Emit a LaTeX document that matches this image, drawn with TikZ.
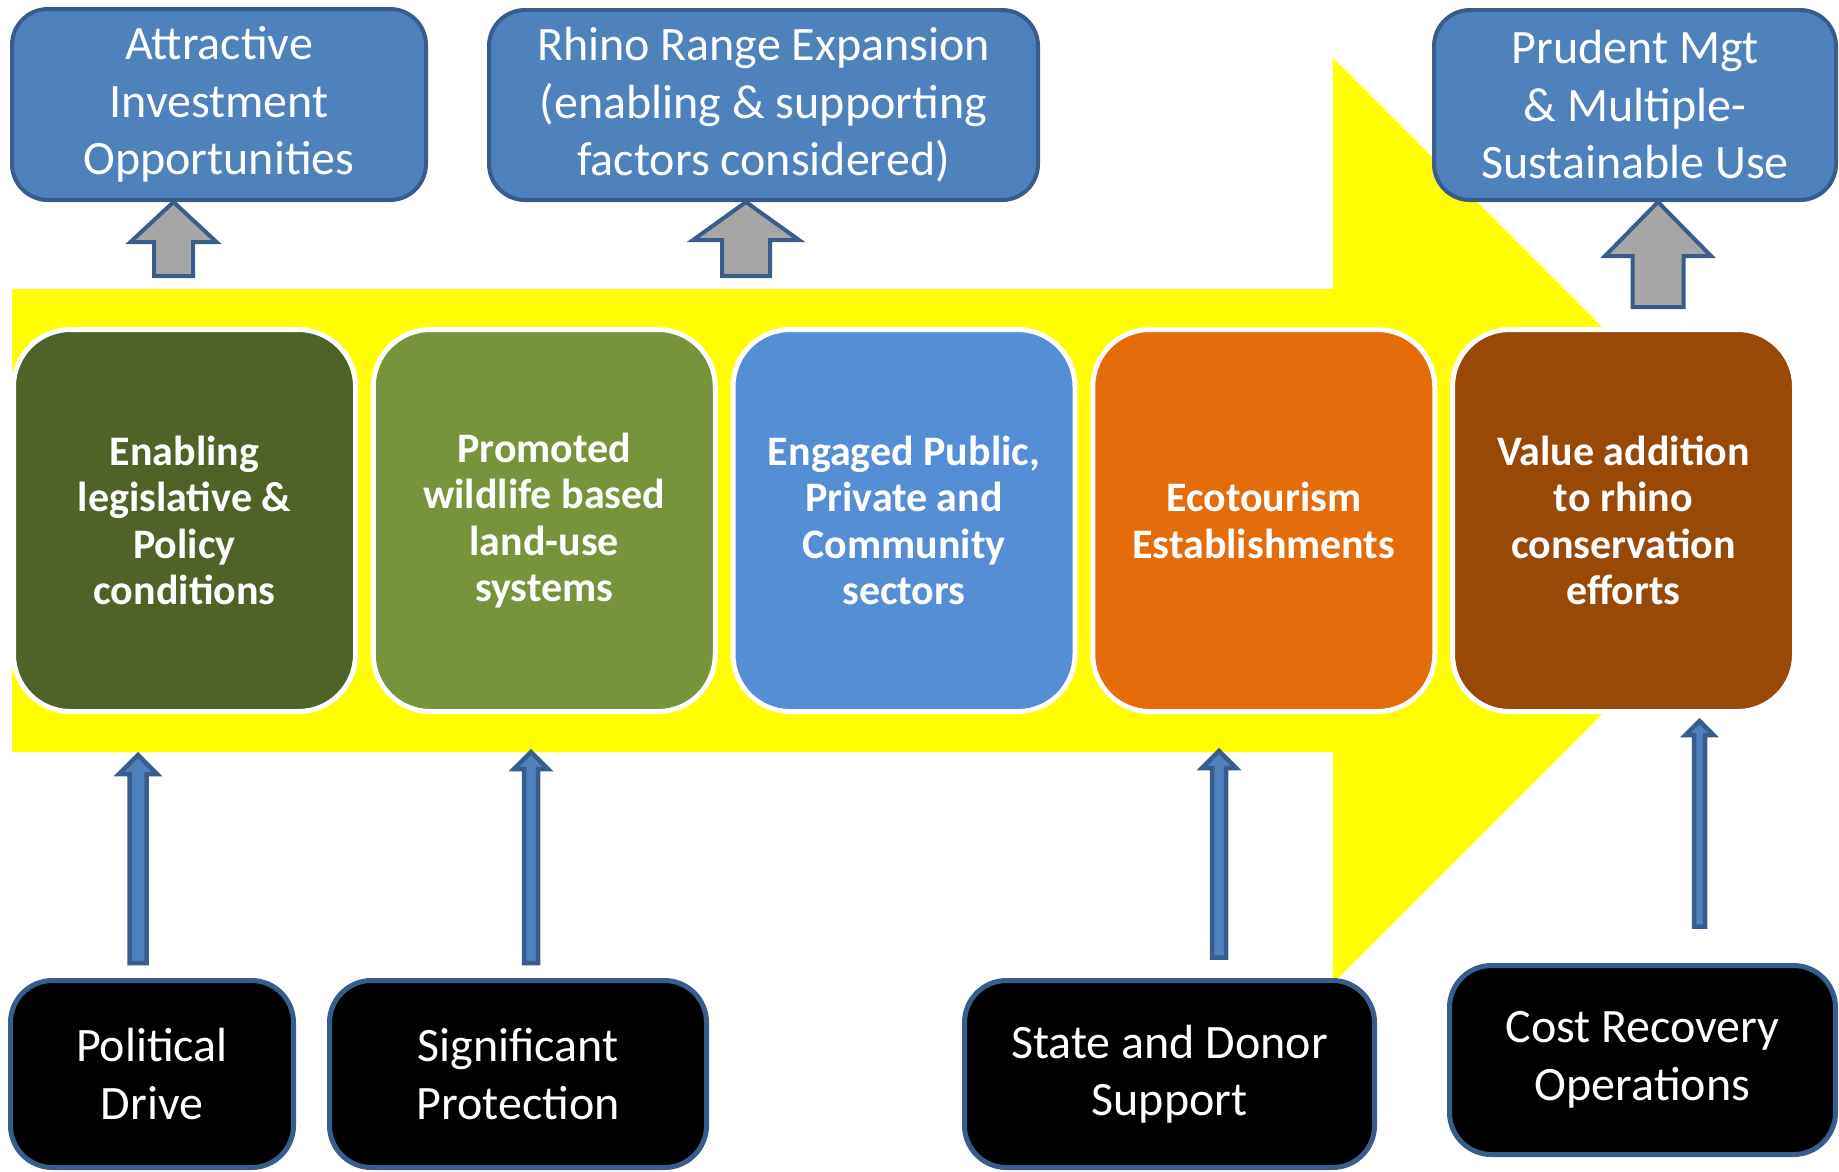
\documentclass[tikz,border=0pt]{standalone}
\usepackage{fontspec}
\setmainfont{Carlito}
\usetikzlibrary{calc}

\definecolor{boxblue}{HTML}{4F81BD}
\definecolor{edgeblue}{HTML}{385D8A}
\definecolor{arrowgray}{HTML}{A6A6A6}
\definecolor{olivedark}{HTML}{4F6228}
\definecolor{olivelight}{HTML}{77933C}
\definecolor{skyblue}{HTML}{558ED5}
\definecolor{ecoorange}{HTML}{E46C0A}
\definecolor{rustbrown}{HTML}{984807}
\definecolor{bandyellow}{HTML}{FFFF00}

% upward block arrow: style, from, to, half shaft, half head, head length
\newcommand\blockup[6][]{%
  \draw[#1] (#3) -- ++(#5,#6) -- ++({#4-#5},0) -- ($(#2)+(#4,0)$)
    -- ($(#2)+(-#4,0)$) -- ($(#3)+(-#4,#6)$) -- ($(#3)+(-#5,#6)$) -- cycle;}

\begin{document}
\begin{tikzpicture}[x=1pt,y=-1pt,
  topbox/.style={rectangle,rounded corners=36pt,draw=edgeblue,line width=4pt,fill=boxblue,
    text=white,align=center,inner sep=0pt,font=\fontsize{48}{57.5}\selectfont},
  midbox/.style={rectangle,rounded corners=57pt,draw=white,line width=5pt,text=white,align=center,
    inner sep=0pt,minimum width=342pt,minimum height=382pt,font=\fontsize{42}{46.5}\selectfont\bfseries},
  basebox/.style={rectangle,rounded corners=42pt,draw=edgeblue,line width=5pt,fill=black,
    text=white,align=center,inner sep=0pt,font=\fontsize{48}{57.5}\selectfont},
  outarrow/.style={draw=edgeblue,line width=4pt,fill=arrowgray,line join=miter},
  inarrow/.style={draw=edgeblue,line width=4.5pt,fill=boxblue,line join=miter}]
 \useasboundingbox (0,0) rectangle (1839,1171);

 % big yellow arrow
 \fill[bandyellow] (12,289) -- (1333,289) -- (1333,58) -- (1795.5,520.5) -- (1333,983) -- (1333,752) -- (12,752) -- cycle;

 \node[topbox,minimum width=414pt,minimum height=191pt] (attract) at (219,104.5) {Attractive\\Investment\\Opportunities};
 \node[topbox,minimum width=549pt,minimum height=190pt] (range) at (763.5,105) {Rhino Range Expansion\\(enabling \& supporting\\factors considered)};
 \node[topbox,minimum width=402pt,minimum height=190pt] (prudent) at (1635,105) {Prudent Mgt\\\& Multiple-\\Sustainable Use};

 \node[midbox,fill=olivedark] (legis) at (184.5,520.5) {Enabling\\legislative \&\\Policy\\conditions};
 \node[midbox,fill=olivelight] (landuse) at (544.25,520.5) {Promoted\\wildlife based\\land-use\\systems};
 \node[midbox,fill=skyblue] (sectors) at (904,520.5) {Engaged Public,\\Private and\\Community\\sectors};
 \node[midbox,fill=ecoorange] (ecotour) at (1263.75,520.5) {Ecotourism\\Establishments};
 \node[midbox,fill=rustbrown] (valueadd) at (1623.5,520.5) {Value addition\\to rhino\\conservation\\efforts};

 \node[basebox,minimum width=283pt,minimum height=187pt] (drive) at (152,1074) {Political\\Drive};
 \node[basebox,minimum width=377pt,minimum height=187pt] (protect) at (518,1074) {Significant\\Protection};
 \node[basebox,minimum width=410pt,minimum height=187pt] (donor) at (1169.5,1074) {State and Donor\\Support};
 \node[basebox,minimum width=386pt,minimum height=189pt] (costrec) at (1642.5,1060) {Cost Recovery\\Operations};

 % outputs
 \coordinate (o1) at (173.5,276);
 \coordinate (o2) at (746,276);
 \coordinate (o3) at (1658,307);
 \blockup[outarrow]{o1}{o1 |- attract.south}{19.5}{43}{40}
 \blockup[outarrow]{o2}{o2 |- range.south}{24}{53}{38}
 \blockup[outarrow]{o3}{o3 |- prudent.south}{25.5}{53}{54}

 % inputs
 \coordinate (i1) at (138,755);
 \coordinate (i2) at (531,752);
 \coordinate (i3) at (1219,751);
 \coordinate (i4) at (1699.5,721);
 \coordinate (i1b) at ($(i1 |- drive.north)+(0,-15)$);
 \coordinate (i2b) at ($(i2 |- protect.north)+(0,-15)$);
 \coordinate (i3b) at ($(i3 |- donor.north)+(0,-20.5)$);
 \coordinate (i4b) at ($(i4 |- costrec.north)+(0,-36.5)$);
 \blockup[inarrow]{i1b}{i1}{8.5}{19}{19}
 \blockup[inarrow]{i2b}{i2}{7}{17}{17}
 \blockup[inarrow]{i3b}{i3}{7}{17}{17}
 \blockup[inarrow]{i4b}{i4}{5.5}{14}{14}
\end{tikzpicture}
\end{document}
